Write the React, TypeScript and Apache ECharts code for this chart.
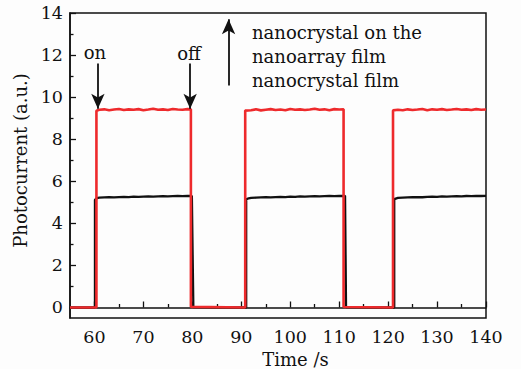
import React, { useEffect, useRef } from "react";
import * as echarts from "echarts";

// Red: nanocrystal on the nanoarray film
const redTime = [
  55, 60.4,
  60.4, 61, 62, 63, 64, 65, 66, 67, 68, 69, 70, 71, 72, 73, 74, 75, 76, 77, 78, 79, 79.7,
  79.7, 90.8,
  90.8, 92, 93, 94, 95, 96, 97, 98, 99, 100, 101, 102, 103, 104, 105, 106, 107, 108, 109, 110, 110.9,
  110.9, 121.0,
  121.0, 122, 123, 124, 125, 126, 127, 128, 129, 130, 131, 132, 133, 134, 135, 136, 137, 138, 139, 140,
];
const redValue = [
  0, 0,
  9.35, 9.40, 9.42, 9.38, 9.41, 9.44, 9.39, 9.42, 9.40, 9.43, 9.38, 9.41, 9.45, 9.40, 9.42, 9.39, 9.44, 9.41, 9.40, 9.43, 9.42,
  0.03, 0,
  9.36, 9.38, 9.42, 9.37, 9.40, 9.43, 9.39, 9.41, 9.38, 9.44, 9.40, 9.42, 9.39, 9.41, 9.45, 9.40, 9.42, 9.38, 9.43, 9.41, 9.42,
  0.02, 0,
  9.37, 9.40, 9.38, 9.42, 9.39, 9.41, 9.44, 9.38, 9.42, 9.40, 9.43, 9.39, 9.41, 9.44, 9.40, 9.42, 9.39, 9.43, 9.40, 9.41,
];

// Black: nanocrystal film
const blackTime = [
  55, 60.1,
  60.1, 60.5, 61, 62, 63, 64, 65, 66, 67, 68, 69, 70, 71, 72, 73, 74, 75, 76, 77, 78, 79, 79.9,
  80.2, 91.0,
  91.0, 91.5, 92, 93, 94, 95, 96, 97, 98, 99, 100, 101, 102, 103, 104, 105, 106, 107, 108, 109, 110, 111.2,
  111.4, 121.25,
  121.25, 121.7, 122, 123, 124, 125, 126, 127, 128, 129, 130, 131, 132, 133, 134, 135, 136, 137, 138, 139, 140,
];
const blackValue = [
  0, 0,
  5.12, 5.20, 5.22, 5.23, 5.24, 5.23, 5.25, 5.26, 5.25, 5.27, 5.26, 5.27, 5.28, 5.27, 5.28, 5.29, 5.28, 5.29, 5.30, 5.29, 5.30, 5.30,
  0.02, 0,
  5.14, 5.19, 5.21, 5.22, 5.23, 5.24, 5.23, 5.25, 5.26, 5.25, 5.27, 5.26, 5.28, 5.27, 5.28, 5.29, 5.28, 5.29, 5.30, 5.29, 5.30, 5.31,
  0.02, 0,
  5.15, 5.19, 5.21, 5.22, 5.23, 5.24, 5.25, 5.24, 5.26, 5.27, 5.26, 5.28, 5.27, 5.28, 5.29, 5.28, 5.30, 5.29, 5.31, 5.30, 5.31,
];

const xMajor = [60, 70, 80, 90, 100, 110, 120, 130, 140];
const xMinor = [65, 75, 85, 95, 105, 115, 125, 135];
const yMajor = [0, 2, 4, 6, 8, 10, 12, 14];
const yMinor = [1, 3, 5, 7, 9, 11, 13];

const legendLines = ["nanocrystal on the", "nanoarray film", "nanocrystal film"];

const FONT = "DejaVu Serif";

export default function App() {
  const ref = useRef<HTMLDivElement>(null);
  useEffect(() => {
    if (!ref.current) return;
    const chart = echarts.init(ref.current, null, { renderer: "svg" });
    const pair = (t: number[], v: number[]) => t.map((x, i) => [x, v[i]]);
    const axisText = { fontFamily: FONT, fontSize: 17.5, color: "#111" };
    chart.setOption({
      animation: false,
      backgroundColor: "#fdfdfd",
      grid: {
        left: 70, top: 13, width: 416, height: 305,
        outerBoundsMode: "none", containLabel: false,
        show: true, borderColor: "#111", borderWidth: 1.5, backgroundColor: "transparent",
      },
      xAxis: [
        {
          type: "value", min: 55, max: 140, position: "bottom",
          name: "Time /s", nameLocation: "middle", nameGap: 31,
          nameTextStyle: { ...axisText, fontSize: 18, padding: [0, 0, 0, 35] },
          axisLine: { show: true, lineStyle: { color: "#111", width: 1.5 } },
          axisTick: { show: true, inside: true, length: 6, customValues: xMajor, lineStyle: { color: "#111", width: 1.3 } },
          axisLabel: { ...axisText, margin: 10, customValues: xMajor },
          splitLine: { show: false },
        },
        {
          type: "value", min: 55, max: 140, position: "bottom", gridIndex: 0,
          axisLine: { show: false },
          axisTick: { show: true, inside: true, length: 3.5, customValues: xMinor, lineStyle: { color: "#111", width: 1.3 } },
          axisLabel: { show: false },
          splitLine: { show: false },
        },
      ],
      yAxis: [
        {
          type: "value", min: -0.5, max: 14, position: "left",
          name: "Photocurrent (a.u.)", nameLocation: "middle", nameGap: 36,
          nameTextStyle: { ...axisText, fontSize: 18, padding: [0, 0, 0, 10] },
          axisLine: { show: true, lineStyle: { color: "#111", width: 1.5 } },
          axisTick: { show: true, inside: true, length: 6, customValues: yMajor, lineStyle: { color: "#111", width: 1.3 } },
          axisLabel: { ...axisText, margin: 7, customValues: yMajor },
          splitLine: { show: false },
        },
        {
          type: "value", min: -0.5, max: 14, position: "left",
          axisLine: { show: false },
          axisTick: { show: true, inside: true, length: 3.5, customValues: yMinor, lineStyle: { color: "#111", width: 1.3 } },
          axisLabel: { show: false },
          splitLine: { show: false },
        },
      ],
      series: [
        {
          type: "line", name: "nanocrystal film", data: pair(blackTime, blackValue),
          showSymbol: false, lineStyle: { color: "#111", width: 2.3 }, z: 2,
        },
        {
          type: "line", name: "nanocrystal on the nanoarray film", data: pair(redTime, redValue),
          showSymbol: false, lineStyle: { color: "#ee2a2c", width: 2.6 }, z: 3,
          markLine: {
            silent: true,
            symbol: ["none", "arrow"],
            symbolSize: [10, 15],
            label: { show: false },
            lineStyle: { color: "#111", width: 1.8, type: "solid" },
            data: [
              [{ coord: [60.7, 11.6] }, { coord: [60.7, 9.45] }],
              [{ coord: [79.55, 11.6] }, { coord: [79.55, 9.45] }],
              [{ coord: [87.4, 10.55] }, { coord: [87.4, 13.7] }],
            ],
          },
        },
      ],
      graphic: [
        { type: "text", x: 95, y: 52, style: { text: "on", font: `18px '${FONT}'`, fill: "#111", textAlign: "center", textVerticalAlign: "middle" } },
        { type: "text", x: 189, y: 53, style: { text: "off", font: `18px '${FONT}'`, fill: "#111", textAlign: "center", textVerticalAlign: "middle" } },
        ...legendLines.map((t, i) => ({
          type: "text", x: 252, y: 32 + i * 24,
          style: { text: t, font: `18px '${FONT}'`, fill: "#111", textAlign: "left", textVerticalAlign: "middle" },
        })),
      ],
    });
    return () => chart.dispose();
  }, []);
  return <div ref={ref} style={{ width: 521, height: 369, position: "absolute", left: 0, top: 0 }} />;
}
